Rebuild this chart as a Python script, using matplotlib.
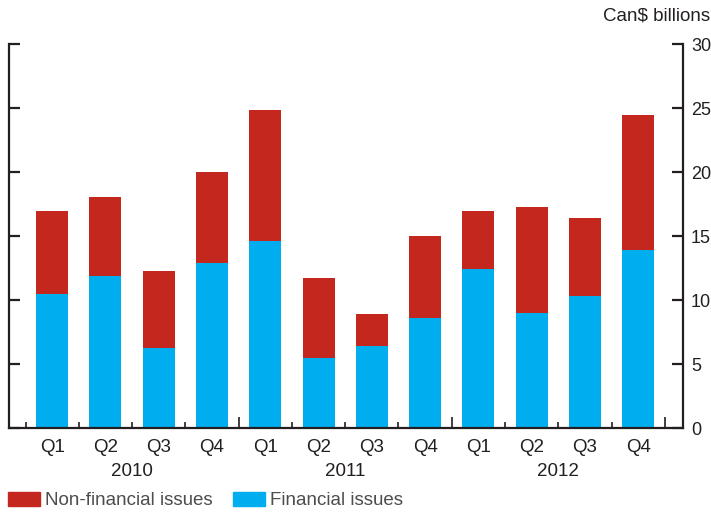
import numpy as np
import matplotlib.pyplot as plt
from matplotlib.patches import Patch
from matplotlib.transforms import blended_transform_factory

plt.rcParams['font.family'] = ['Liberation Sans', 'DejaVu Sans']

quarters = ['Q1', 'Q2', 'Q3', 'Q4'] * 3
years = ['2010', '2011', '2012']
financial = [10.5, 11.9, 6.3, 12.9, 14.6, 5.5, 6.4, 8.6, 12.4, 9.0, 10.3, 13.9]
totals = [17.0, 18.1, 12.3, 20.0, 24.85, 11.7, 8.9, 15.0, 16.95, 17.25, 16.4, 24.45]
non_financial = [t - f for t, f in zip(totals, financial)]

blue = '#00AEEF'
red = '#C4271E'
dark = '#231F20'
grey = '#4D4D4F'
fs = 13.5

fig = plt.figure(figsize=(7.11, 5.14), dpi=100)
ax = fig.add_axes([0.0127, 0.167, 0.9479, 0.747])

x = np.arange(len(financial))
ax.bar(x, financial, width=0.6, color=blue)
ax.bar(x, non_financial, width=0.6, bottom=financial, color=red)

ax.set_xlim(-0.81, 11.84)
ax.set_ylim(0, 30)

for side in ['left', 'right', 'bottom']:
    ax.spines[side].set_color(dark)
    ax.spines[side].set_linewidth(1.6)
ax.spines['top'].set_visible(False)

# y ticks on both sides, labels only on the right
ax.set_yticks(range(0, 31, 5))
ax.yaxis.set_ticks_position('both')
ax.tick_params(axis='y', direction='in', length=8, width=1.6, color=dark,
               labelleft=False, labelright=True, labelsize=13, labelcolor=dark, pad=5.8)

# x ticks: short between quarters, long between years
ax.set_xticks([-0.5, 0.5, 1.5, 2.5, 4.5, 5.5, 6.5, 8.5, 9.5, 10.5])
ax.set_xticks([3.5, 7.5, 11.5], minor=True)
ax.tick_params(axis='x', which='major', direction='in', length=4, width=1.2,
               color=dark, labelbottom=False)
ax.tick_params(axis='x', which='minor', direction='in', length=8, width=1.2,
               color=dark, labelbottom=False)

trans = blended_transform_factory(ax.transData, ax.transAxes)
for xi, q in zip(x, quarters):
    ax.text(xi, -0.028, q, transform=trans, ha='center', va='top',
            fontsize=fs, color=dark)
for i, yr in enumerate(years):
    ax.text(4 * i + 1.5, -0.09, yr, transform=trans, ha='center', va='top',
            fontsize=fs, color=dark)

fig.text(0.999, 0.969, 'Can$ billions', ha='right', va='center',
         fontsize=fs, color=dark)

handles = [Patch(color=red, label='Non-financial issues'),
           Patch(color=blue, label='Financial issues')]
leg = fig.legend(handles=handles, loc='center left', bbox_to_anchor=(-0.013, 0.026),
                 ncol=2, frameon=False, fontsize=fs, handlelength=1.7,
                 handleheight=0.75, handletextpad=0.27, columnspacing=1.1)
for t in leg.get_texts():
    t.set_color(grey)

fig.savefig('out.png', dpi=100)
